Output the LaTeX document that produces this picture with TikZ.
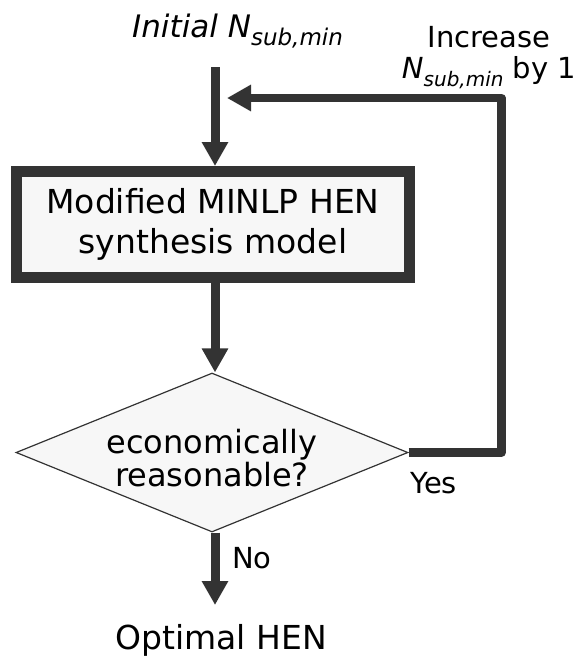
\documentclass[tikz,border=0pt]{standalone}
\usepackage{fontspec}
\setmainfont{DejaVu Sans}
\usetikzlibrary{arrows.meta,shapes.geometric}
\definecolor{ink}{HTML}{333333}
\definecolor{panel}{HTML}{F7F7F7}
% lowered italic index used in N_{sub,min}
\newcommand\lowsub[2][20]{\raisebox{-8pt}{\fontsize{#1}{#1}\selectfont\itshape #2}}
\begin{document}
\begin{tikzpicture}[x=1pt,y=-1pt,
  flow/.style={draw=ink, line width=9pt, -{Triangle[width=25pt,length=24pt]}},
  loopline/.style={draw=ink, line width=8.5pt, line join=round, -{Triangle[width=25pt,length=24pt]}},
  tag/.style={inner sep=0pt, font=\fontsize{29}{31}\selectfont},
  stepbox/.style={draw=ink, line width=11pt, fill=panel, minimum width=393pt,
    minimum height=106pt, inner sep=0pt, align=center, font=\fontsize{33}{39.5}\selectfont},
  decision/.style={diamond, draw=ink, line width=1.2pt, fill=panel, minimum width=392pt,
    minimum height=159pt, aspect=2.47, inner sep=0pt},
]
\useasboundingbox (0,0) rectangle (582,657);

% labels at the top
\node[inner sep=0pt, anchor=base west, font=\fontsize{31}{33}\selectfont] (init) at (132,37)
  {\itshape Initial N\lowsub[23]{sub,min}};
\node[tag, anchor=north, align=center] (inc) at (489,26)
  {Increase\\{\itshape N}\lowsub{sub,min} by 1};

% main boxes
\node[stepbox] (box) at (213,224.5) {Modified MINLP HEN\\synthesis model};
\node[decision] (dia) at (212,452.5) {};
\node[inner sep=0pt, align=center, font=\fontsize{32}{33}\selectfont] (question)
  at ([yshift=-6pt]dia.center) {economically\\reasonable?};
\node[inner sep=0pt, anchor=base, font=\fontsize{33}{33}\selectfont] (out) at (221,649) {Optimal HEN};

% branch labels
\node[tag, anchor=base west] (no) at (232,568) {No};
\node[tag, anchor=base west] (yes) at (410,493) {Yes};

% connectors
\coordinate (start) at (215,67);
\coordinate (rt) at (501.5,98);
\coordinate (merge) at (227,98);
\coordinate (stop) at (215,605);
\draw[flow] (start) -- (start |- box.north);
\draw[flow] (start |- box.south) -- (start |- dia.north);
\draw[flow] (dia.south -| stop) -- (stop);
\draw[loopline] (dia.east) -| (rt) -- (merge);
\end{tikzpicture}
\end{document}
